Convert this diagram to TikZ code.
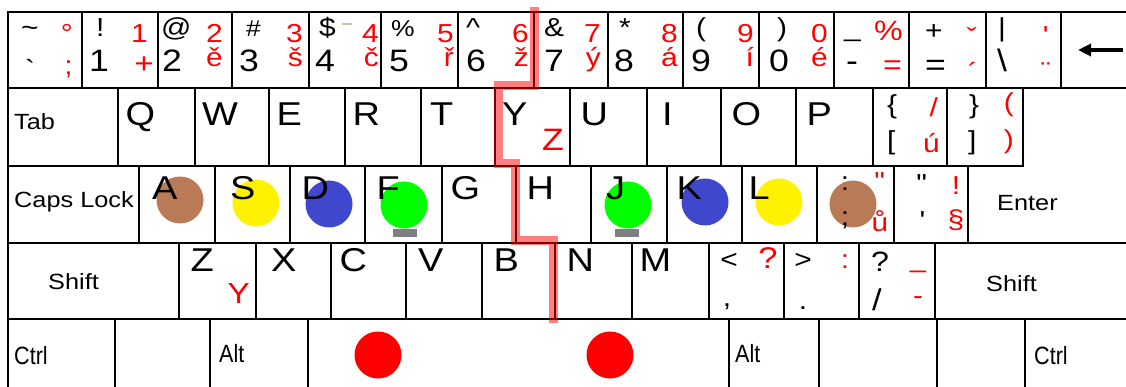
\documentclass[tikz,border=0pt]{standalone}
\usepackage{fontspec}
\setmainfont{Liberation Sans}[FakeStretch=1.15]
\usepackage{graphicx}
\usetikzlibrary{arrows.meta, positioning, calc}
\definecolor{pinky}{HTML}{B97A57}
\definecolor{ring}{HTML}{FFF200}
\definecolor{middle}{HTML}{3F48CC}
\definecolor{index}{HTML}{00FF00}
\definecolor{homebar}{HTML}{7F7F7F}
\definecolor{smudge}{HTML}{C4C8A0}
\tikzstyle{keybox}    = [rectangle, draw=black, line width=2.6pt, anchor=north west, inner sep=0pt, outer sep=0pt]
\tikzstyle{keyline}   = [draw=black, line width=2.6pt]
\tikzstyle{letter}    = [font=\fontsize{33}{33}\selectfont, anchor=base west, inner sep=0pt]
\tikzstyle{digit}     = [font=\fontsize{31}{31}\selectfont, anchor=base west, inner sep=0pt]
\tikzstyle{upper}     = [font=\fontsize{26}{26}\selectfont, anchor=base west, inner sep=0pt]
\tikzstyle{czech}     = [font=\fontsize{26}{26}\selectfont, text=red, anchor=base east, inner sep=0pt]
\tikzstyle{keyname}   = [font=\fontsize{22}{22}\selectfont, anchor=base west, inner sep=0pt]
\tikzstyle{modname}   = [font=\fontsize{25}{25}\selectfont, anchor=base west, inner sep=0pt]
\tikzstyle{fingerdot} = [circle, inner sep=0pt, minimum size=47pt]
\tikzstyle{homemark}  = [rectangle, fill=homebar, inner sep=0pt, minimum width=24pt, minimum height=8pt]
\tikzstyle{handsplit} = [draw=red, opacity=0.5, line width=9pt]
\begin{document}
\begin{tikzpicture}[x=1pt, y=-1pt]
\useasboundingbox (0,0) rectangle (1126,387);

% number row
\foreach \b [count=\i, remember=\b as \a (initially 8)] in {82,158,232,309,381,458,534,608,683,759,834,909,986,1061,1140}
  \node[keybox, minimum width=\b-\a, minimum height=76] (n\i) at (\a,12) {};

% tab row
\node[keybox, minimum width=110, minimum height=78] (tab) at (8,88) {};
\foreach \l/\a/\b/\t in {Q/118/195/125.5, W/195/269/202, E/269/345/276.5, R/345/421/352.5, T/421/495/430, Y/495/570/502, U/570/647/580.5, I/647/721/662, O/721/796/731.5, P/796/873/806.5} {
  \node[keybox, minimum width=\b-\a, minimum height=78] (k\l) at (\a,88) {};
  \node[letter] (t\l) at (\t,126) {\l};
}
\node[keybox, minimum width=74, minimum height=78] (klbrace) at (873,88) {};
\node[keybox, minimum width=76, minimum height=78] (krbrace) at (947,88) {};

% home row
\node[keybox, minimum width=131, minimum height=77] (caps) at (8,166) {};
\foreach \l/\a/\b in {A/139/215, S/215/290, D/290/365, F/365/442, G/442/516, H/516/591, J/591/667, K/667/742, L/742/817}
  \node[keybox, minimum width=\b-\a, minimum height=77] (k\l) at (\a,166) {};
\node[keybox, minimum width=77, minimum height=77] (ksemi) at (817,166) {};
\node[keybox, minimum width=74, minimum height=77] (kquote) at (894,166) {};
\coordinate (enterend) at (1140,243);
\draw[keyline] (krbrace.north east) -- (krbrace.south east) -- (kquote.north east) -- (kquote.south east) -- (enterend);

% shift row
\node[keybox, minimum width=171, minimum height=76] (lshift) at (8,243) {};
\foreach \l/\a/\b in {Z/179/256, X/256/331, C/331/406, V/406/482, B/482/555, N/555/632, M/632/709}
  \node[keybox, minimum width=\b-\a, minimum height=76] (k\l) at (\a,243) {};
\node[keybox, minimum width=75, minimum height=76] (kcomma) at (709,243) {};
\node[keybox, minimum width=75, minimum height=76] (kperiod) at (784,243) {};
\node[keybox, minimum width=76, minimum height=76] (kslash) at (859,243) {};
\node[keybox, minimum width=205, minimum height=76] (rshift) at (935,243) {};

% bottom row
\foreach \b [count=\i, remember=\b as \a (initially 8)] in {115,210,308,729,819,937,1025,1140}
  \node[keybox, minimum width=\b-\a, minimum height=80] (m\i) at (\a,319) {};

% fingers
\node[fingerdot, fill=pinky] (dotA) at (180,200) {};
\node[fingerdot, fill=ring] (dotS) at (256,203) {};
\node[fingerdot, fill=middle] (dotD) at (329,204) {};
\node[fingerdot, fill=index] (dotF) at (404,205) {};
\node[fingerdot, fill=index] (dotJ) at (628,205) {};
\node[fingerdot, fill=middle] (dotK) at (705,202) {};
\node[fingerdot, fill=ring] (dotL) at (779,202) {};
\node[fingerdot, fill=pinky] (dotSemi) at (853,204) {};
\node[homemark] (barF) at (405,233) {};
\node[homemark] (barJ) at (627,233) {};
\node[fingerdot, fill=red] (thumbL) at (378,355) {};
\node[fingerdot, fill=red] (thumbR) at (610,355) {};

% letters
\foreach \l/\t in {A/152, S/230, D/301.5, F/376.5, G/450.5, H/526.5, J/606, K/676.5, L/748.5}
  \node[letter] (t\l) at (\t,200) {\l};
\foreach \l/\t in {Z/190.5, X/271, C/339.5, V/418, B/493.5, N/566.5, M/639.5}
  \node[letter] (t\l) at (\t,272) {\l};
\node[czech, font=\fontsize{31}{31}\selectfont] (zY) at (564,151) {Z};
\node[czech, font=\fontsize{29}{29}\selectfont] (yZ) at (250,303) {Y};

% number row labels
\node[upper] (n1a) at (21,37) {\textasciitilde};
\node[upper] (n1b) at (25,79) {\textasciigrave};
\node[czech] (n1c) at (73,43) {°};
\node[czech] (n1d) at (73,75) {;};
\node[upper] (n2a) at (96,37) {!};
\node[digit] (n2b) at (89,72) {1};
\node[czech] (n2c) at (148,43) {1};
\node[czech, font=\fontsize{29}{29}\selectfont] (n2d) at (154,74) {+};
\node[upper] (n3a) at (161,37) {@};
\node[digit] (n3b) at (162,72) {2};
\node[czech] (n3c) at (223,43) {2};
\node[czech] (n3d) at (223,67) {ě};
\node[upper, font=\fontsize{23}{23}\selectfont] (n4a) at (246,37) {\#};
\node[digit] (n4b) at (239,72) {3};
\node[czech] (n4c) at (303,43) {3};
\node[czech] (n4d) at (303,67) {š};
\node[upper] (n5a) at (319,37) {\$};
\draw[smudge, line width=1.2pt] (342,24) -- (352,24);
\node[digit] (n5b) at (315,72) {4};
\node[czech] (n5c) at (379,43) {4};
\node[czech] (n5d) at (379,67) {č};
\node[upper, font=\fontsize{23}{23}\selectfont] (n6a) at (391,37) {\%};
\node[digit] (n6b) at (389,72) {5};
\node[czech] (n6c) at (454,43) {5};
\node[czech] (n6d) at (454,67) {ř};
\node[upper] (n7a) at (466,37) {\textasciicircum};
\node[digit] (n7b) at (466,72) {6};
\node[czech] (n7c) at (529,43) {6};
\node[czech] (n7d) at (529,67) {ž};
\node[upper] (n8a) at (544,37) {\&};
\node[digit] (n8b) at (544,72) {7};
\node[czech] (n8c) at (601,43) {7};
\node[czech] (n8d) at (601,67) {ý};
\node[upper] (n9a) at (619,37) {*};
\node[digit] (n9b) at (614,72) {8};
\node[czech] (n9c) at (678,43) {8};
\node[czech] (n9d) at (678,67) {á};
\node[upper] (n10a) at (696,37) {(};
\node[digit] (n10b) at (691,72) {9};
\node[czech] (n10c) at (754,43) {9};
\node[czech] (n10d) at (754,67) {í};
\node[upper] (n11a) at (777,37) {)};
\node[digit] (n11b) at (769,72) {0};
\node[czech] (n11c) at (828,43) {0};
\node[czech] (n11d) at (828,67) {é};
\node[upper] (n12a) at (844,37) {\_};
\node[digit] (n12b) at (846,72) {-};
\node[czech, font=\fontsize{28}{28}\selectfont] (n12c) at (903,41) {\%};
\node[czech, font=\fontsize{28}{28}\selectfont] (n12d) at (902,75) {=};
\node[upper] (n13a) at (925,40) {+};
\node[digit] (n13b) at (925,76) {=};
\node[czech] (n13c) at (977,47) {ˇ};
\node[czech] (n13d) at (978,82) {´};
\node[upper] (n14a) at (998,37) {|};
\node[digit] (n14b) at (997,72) {\textbackslash};
\node[czech] (n14c) at (1048,45) {\textquotesingle};
\node[czech] (n14d) at (1051,81) {¨};
\coordinate (bsfrom) at (1123,50);
\coordinate (bsto) at (1078,50);
\draw[line width=3.5pt, -{Triangle[length=13pt, width=12pt]}] (bsfrom) -- (bsto);

% bracket keys
\node[upper] (lb1) at (887,114) {\{};
\node[upper] (lb2) at (887,150) {[};
\node[czech] (lb3) at (938,117) {/};
\node[czech] (lb4) at (940,153) {ú};
\node[upper] (rb1) at (969,114) {\}};
\node[upper] (rb2) at (968,150) {]};
\node[czech] (rb3) at (1014,112) {(};
\node[czech] (rb4) at (1014,149) {)};

% semicolon and quote keys
\node[upper, anchor=base] (sc1) at (845,191) {:};
\node[upper, anchor=base] (sc2) at (845,226) {;};
\node[czech, anchor=base] (sc3) at (879,191) {\textquotedbl};
\node[czech, anchor=base] (sc4) at (880,232) {ů};
\node[upper, anchor=base] (qt1) at (921,193) {\textquotedbl};
\node[upper, anchor=base] (qt2) at (922,230) {\textquotesingle};
\node[czech, anchor=base] (qt3) at (956,195) {!};
\node[czech, anchor=base] (qt4) at (956,229) {§};

% comma, period, slash keys
\node[upper, anchor=base] (cm1) at (729,269) {<};
\node[upper, anchor=base] (cm2) at (727,306) {,};
\node[czech, anchor=base, font=\fontsize{30}{30}\selectfont] (cm3) at (768,269) {?};
\node[upper, anchor=base] (pd1) at (803,269) {>};
\node[upper, anchor=base] (pd2) at (803,309) {.};
\node[czech, anchor=base] (pd3) at (845,269) {:};
\node[upper, anchor=base, font=\fontsize{28}{28}\selectfont] (sl1) at (880,272) {?};
\node[upper, anchor=base, font=\fontsize{30}{30}\selectfont] (sl2) at (877,310) {/};
\node[czech, anchor=base] (sl3) at (918,278) {–};
\node[czech, anchor=base] (sl4) at (918,304) {-};

% key names
\node[keyname] (tabtxt) at (14,130) {Tab};
\node[keyname] (capstxt) at (14,208) {Caps Lock};
\node[keyname] (lshifttxt) at (48,289) {Shift};
\node[keyname] (entertxt) at (997,211) {Enter};
\node[keyname] (rshifttxt) at (986,291) {Shift};
\node[modname] (lctrltxt) at (14,364) {\scalebox{0.75}[1]{Ctrl}};
\node[modname] (lalttxt) at (219,362) {\scalebox{0.75}[1]{Alt}};
\node[modname] (ralttxt) at (735,362) {\scalebox{0.75}[1]{Alt}};
\node[modname] (rctrltxt) at (1034,364) {\scalebox{0.75}[1]{Ctrl}};

% split between hands
\draw[handsplit] (534,7) -- (534,86) -- (498,86) -- (498,164) -- (515,164) -- (515,241) -- (553,241) -- (553,323);
\end{tikzpicture}
\end{document}
